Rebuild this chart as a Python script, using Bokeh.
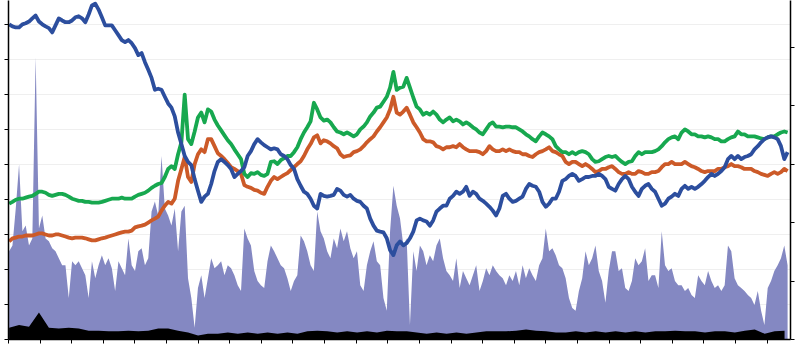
import numpy as np
from bokeh.plotting import figure
from bokeh.models import Range1d, LinearAxis, SingleIntervalTicker, CustomLabelingPolicy
from bokeh.embed import file_html
from bokeh.resources import INLINE

# ---- data ----
# price-like series on the left axis (ticks every 10)
blue = [
    90.0, 89.4, 89.1, 89.1, 90.0, 90.3, 90.8, 91.7, 92.5, 90.8,
    90.0, 89.4, 88.9, 87.7, 89.7, 91.7, 91.1, 90.6, 90.6, 91.1,
    92.0, 92.3, 91.7, 90.6, 92.8, 95.4, 95.9, 94.2, 92.0, 89.7,
    89.7, 89.7, 88.3, 86.9, 85.5, 84.9, 85.5, 84.6, 83.2, 81.2,
    81.8, 79.2, 77.0, 74.7, 71.3, 71.6, 71.3, 69.3, 67.4, 66.2,
    63.7, 59.1, 55.8, 52.4, 50.7, 49.8, 45.8, 42.5,
    39.3, 40.8, 41.6, 44.4, 48.1, 50.7, 51.5, 50.7, 49.8, 48.7,
    46.4, 47.3, 48.1, 49.2, 52.4, 53.8, 55.8, 57.2, 56.3, 55.5,
    54.9, 54.3, 54.6, 54.3, 52.9, 52.4, 51.5, 49.8, 48.7, 45.8,
    43.9, 42.2, 41.6, 40.2, 38.2, 37.4, 41.6, 41.0, 40.8, 41.0,
    41.3, 43.0, 42.5, 41.3, 40.8, 41.3, 40.2, 39.6, 39.3, 38.2,
    37.4, 34.5, 32.5, 31.1, 30.8, 30.6, 28.9, 25.5, 24.1, 26.9,
    28.0, 26.9, 27.5, 28.9, 30.8, 34.0, 34.5, 34.0, 33.7, 32.5,
    34.0, 36.5, 37.4, 38.2, 38.2, 40.2, 41.0, 42.2, 41.6, 42.2,
    43.6, 41.0, 42.2, 41.6, 40.2, 39.6, 38.8, 37.9, 36.8, 35.4,
    37.4, 41.0, 41.6, 40.2, 39.3, 39.6, 40.2, 40.8, 43.0, 44.4,
    43.9, 43.6, 42.2, 39.3, 37.9, 38.8, 40.2, 40.2, 42.2, 45.3,
    45.8, 46.7, 47.3, 46.7, 45.3, 45.8, 46.4, 46.4, 46.7, 46.7,
    47.3, 46.7, 45.8, 43.6, 43.0, 42.5, 44.4, 45.8, 46.7, 45.8,
    43.6, 42.2, 41.0, 43.0, 43.9, 44.4, 43.0, 42.2, 40.2, 38.2,
    38.8, 40.2, 40.8, 41.6, 41.0, 43.0, 43.9, 43.0, 43.6, 43.0,
    43.6, 44.4, 45.3, 46.4, 47.3, 46.7, 47.3, 48.1, 49.2, 51.5,
    52.4, 51.5, 52.4, 51.5, 52.1, 52.4, 52.9, 54.3, 55.2, 56.3,
    57.2, 57.7, 58.0, 57.7, 57.2, 55.2, 51.5, 53.5,
]

green = [
    38.8, 39.3, 39.9, 40.2, 40.2, 40.5, 40.8, 41.0, 41.6, 42.2,
    42.2, 41.9, 41.3, 41.0, 41.3, 41.6, 41.6, 41.3, 40.8, 40.2,
    39.9, 39.6, 39.6, 39.3, 39.3, 39.1, 39.1, 39.1, 39.3, 39.6,
    39.9, 40.2, 40.2, 40.2, 40.5, 40.2, 40.2, 40.2, 40.8, 41.3,
    41.6, 41.9, 42.5, 43.3, 43.9, 44.4, 44.7, 46.4, 48.7, 49.5,
    48.7, 52.9, 56.3, 69.9, 57.2, 55.8, 59.4, 63.4,
    64.8, 62.0, 65.7, 65.1, 62.8, 61.1, 59.7, 58.3, 56.9, 55.8,
    54.3, 52.9, 51.5, 47.3, 46.4, 47.5, 47.3, 47.8, 47.0, 46.7,
    47.3, 50.7, 50.9, 50.1, 51.2, 51.8, 52.4, 52.4, 53.5, 54.9,
    57.2, 59.1, 60.6, 62.3, 67.6, 65.7, 63.4, 62.5, 62.8, 62.0,
    60.6, 59.4, 59.1, 58.6, 59.1, 58.6, 58.0, 58.6, 60.0, 60.8,
    62.0, 63.7, 64.8, 66.2, 66.5, 67.9, 69.3, 71.9, 76.4, 71.3,
    71.9, 72.2, 74.7, 71.9, 69.1, 66.5, 65.7, 64.2, 64.8, 64.2,
    65.1, 64.2, 62.8, 62.0, 62.8, 63.4, 62.3, 62.8, 62.3, 61.4,
    62.0, 61.4, 60.6, 60.0, 59.1, 58.6, 60.0, 61.4, 62.0, 60.8,
    60.8, 60.6, 60.8, 60.8, 60.6, 60.6, 60.0, 59.4, 58.6, 58.0,
    57.2, 56.6, 58.0, 59.1, 58.6, 58.0, 57.2, 55.2, 54.3, 53.5,
    53.5, 52.9, 53.5, 52.9, 53.5, 53.8, 53.5, 52.9, 51.5, 50.7,
    50.9, 51.5, 52.1, 52.4, 52.1, 52.4, 51.5, 50.7, 50.1, 50.7,
    50.9, 52.4, 53.5, 52.9, 53.5, 53.5, 53.5, 53.8, 54.3, 55.2,
    56.3, 57.2, 57.7, 58.0, 57.2, 59.1, 60.0, 59.4, 58.6, 58.6,
    58.0, 58.0, 57.7, 58.0, 57.7, 57.2, 57.2, 56.6, 56.6, 57.2,
    57.7, 58.0, 59.4, 58.6, 58.6, 58.0, 58.0, 58.0, 57.7, 57.4,
    57.2, 57.7, 58.0, 58.0, 58.6, 59.1, 59.4, 59.1,
]

orange = [
    28.0, 28.9, 29.1, 29.4, 29.4, 29.7, 29.7, 29.7, 30.0, 30.3,
    30.3, 30.0, 29.7, 29.7, 30.0, 30.0, 29.7, 29.4, 29.1, 28.9,
    29.1, 29.1, 29.1, 28.9, 28.6, 28.3, 28.3, 28.6, 28.9, 29.1,
    29.4, 29.7, 30.0, 30.3, 30.6, 30.8, 30.8, 31.1, 32.0, 32.3,
    32.5, 32.8, 33.4, 34.0, 34.5, 35.1, 36.8, 38.2, 39.3, 38.8,
    40.2, 45.3, 48.7, 52.1, 46.4, 45.0, 50.1, 52.9,
    54.3, 53.5, 57.2, 57.2, 55.2, 53.2, 52.4, 51.5, 50.4, 49.2,
    48.7, 48.1, 47.3, 44.1, 43.6, 43.3, 42.7, 42.5, 41.9, 41.6,
    43.6, 45.3, 46.4, 45.8, 46.4, 47.0, 47.5, 48.4, 49.2, 50.1,
    50.9, 52.4, 54.3, 55.8, 57.7, 58.3, 56.0, 56.9, 56.6, 56.0,
    55.2, 54.6, 52.9, 52.1, 52.4, 52.6, 53.5, 53.8, 54.3, 55.2,
    56.3, 57.2, 58.0, 59.4, 60.6, 62.0, 63.4, 65.7, 69.3, 64.8,
    64.2, 65.1, 66.2, 64.2, 62.0, 60.6, 59.1, 57.2, 56.6, 56.6,
    56.3, 55.2, 54.9, 54.3, 54.9, 54.9, 55.2, 54.9, 55.8, 54.9,
    54.3, 53.8, 53.8, 53.8, 53.5, 52.9, 53.8, 55.2, 54.3, 53.8,
    53.8, 54.3, 53.8, 54.3, 53.8, 53.5, 53.5, 52.9, 52.9, 52.4,
    52.1, 52.9, 53.5, 53.8, 54.3, 54.9, 53.8, 53.5, 52.9, 52.4,
    50.7, 50.1, 50.7, 50.7, 50.1, 49.5, 50.1, 49.5, 48.7, 47.8,
    48.1, 48.7, 48.7, 49.2, 49.5, 48.7, 47.8, 47.3, 47.3, 47.8,
    47.3, 47.3, 48.1, 47.8, 47.3, 47.3, 47.8, 47.8, 48.1, 49.2,
    50.1, 50.1, 50.7, 50.1, 50.1, 50.1, 50.7, 50.1, 49.5, 49.2,
    48.7, 48.1, 47.8, 48.1, 48.1, 48.1, 48.7, 48.7, 49.2, 49.5,
    50.1, 49.5, 49.5, 49.2, 48.7, 48.7, 48.7, 48.1, 47.8, 47.3,
    47.0, 46.7, 47.3, 47.8, 47.3, 47.8, 48.7, 48.1,
]

# volume-like series on the right axis (ticks every 10)
volume = [
    15.1, 16.1, 22.4, 30.0, 18.5, 19.5, 16.1, 17.3, 48.3, 19.0,
    21.2, 17.3, 16.8, 15.6, 15.1, 13.9, 12.7, 12.7, 7.1, 13.4,
    12.7, 13.4, 12.2, 11.0, 7.1, 13.4, 10.5, 12.7, 14.4, 12.7,
    13.9, 12.2, 8.3, 13.4, 12.2, 11.0, 17.3, 12.7, 11.7, 15.1,
    15.6, 12.7, 13.9, 21.9, 23.6, 21.2, 31.4, 22.4, 21.2, 19.5,
    22.4, 15.1, 21.9, 22.9, 10.5, 7.1, 2.0, 8.8,
    11.0, 7.1, 10.5, 13.9, 12.2, 12.7, 13.4, 11.0, 12.7, 12.2,
    11.0, 9.3, 8.3, 19.0, 17.3, 16.1, 11.7, 10.0, 9.3, 8.8,
    13.4, 16.1, 15.1, 13.9, 12.7, 12.2, 10.5, 8.3, 10.0, 11.0,
    17.8, 16.8, 15.1, 12.7, 11.7, 21.9, 18.5, 17.3, 15.1, 13.9,
    17.3, 15.6, 19.0, 16.8, 18.5, 15.6, 13.9, 15.1, 9.3, 8.3,
    12.7, 15.1, 16.8, 13.4, 12.7, 7.1, 4.9, 18.5, 26.3, 22.9,
    20.7, 16.1, 17.3, 2.5, 15.1, 11.7, 16.1, 15.1, 12.7, 14.4,
    13.4, 16.1, 17.3, 13.9, 11.7, 11.0, 10.0, 13.9, 8.8, 11.7,
    10.5, 9.3, 11.0, 12.7, 8.3, 10.0, 12.2, 11.0, 12.7, 11.7,
    11.0, 10.5, 9.3, 11.0, 10.0, 11.7, 9.3, 12.7, 10.5, 12.2,
    11.0, 10.0, 12.7, 13.9, 19.0, 15.1, 15.6, 14.4, 12.7, 12.2,
    10.5, 7.1, 5.4, 4.9, 8.3, 10.5, 15.1, 12.7, 13.9, 16.1,
    11.7, 10.0, 6.3, 11.7, 15.1, 15.1, 11.7, 12.2, 8.8, 8.3,
    10.0, 13.9, 12.7, 13.4, 15.6, 10.0, 11.0, 11.0, 8.8, 18.5,
    12.7, 11.7, 12.2, 10.0, 9.3, 9.3, 8.3, 8.8, 7.6, 7.1,
    11.0, 10.0, 9.3, 11.7, 10.0, 8.8, 9.3, 8.3, 9.3, 16.1,
    15.1, 10.5, 9.3, 8.8, 8.3, 7.6, 7.1, 5.9, 8.3, 4.9,
    2.5, 8.8, 10.0, 11.7, 12.7, 13.9, 16.1, 12.7,
]

black = [
    2.0, 2.5, 2.2, 4.6, 2.0, 1.9, 2.0, 1.9, 1.5, 1.5,
    1.4, 1.4, 1.5, 1.4, 1.5, 1.9, 1.9, 1.5, 1.2, 0.7,
    1.0, 1.0, 1.2, 1.0, 1.2, 1.0, 1.2, 1.0, 1.2, 1.0,
    1.4, 1.5, 1.4, 1.2, 1.4, 1.2, 1.4, 1.2, 1.5, 1.4,
    1.4, 1.2, 1.0, 1.2, 1.0, 1.2, 1.0, 1.2, 1.4, 1.4,
    1.4, 1.5, 1.7, 1.5, 1.4, 1.2, 1.2, 1.4, 1.2, 1.4,
    1.2, 1.4, 1.2, 1.4, 1.2, 1.4, 1.4, 1.5, 1.4, 1.4,
    1.2, 1.4, 1.4, 1.2, 1.5, 1.7, 1.0, 1.4, 1.5,
]

# trading-day grid (x axis ticks every 25 days)
day = np.linspace(0.5, 616.2, len(blue))
day_black = np.linspace(0.5, 613.8, len(black))

# ---- figure ----
p = figure(width=798, height=347, output_backend="svg", toolbar_location=None,
           x_range=Range1d(0, 618.5), y_range=Range1d(0, 96.8),
           min_border_left=0, min_border_right=0, min_border_top=0, min_border_bottom=0)
p.extra_y_ranges = {"vol": Range1d(0, 58.0)}
p.outline_line_color = None
p.background_fill_color = "white"
p.border_fill_color = "white"

no_labels = CustomLabelingPolicy(code="return new Set()")


def style_axis(ax):
    ax.major_label_policy = no_labels
    ax.major_label_text_font_size = "1px"
    ax.major_label_standoff = 0
    ax.major_tick_in = 0
    ax.major_tick_out = 4
    ax.minor_tick_line_color = None
    ax.axis_line_color = "black"
    ax.axis_line_width = 1.5
    ax.major_tick_line_color = "black"
    ax.major_tick_line_width = 1


style_axis(p.xaxis[0])
style_axis(p.yaxis[0])
p.xaxis[0].ticker = SingleIntervalTicker(interval=25)
p.yaxis[0].ticker = SingleIntervalTicker(interval=10)

right = LinearAxis(y_range_name="vol", ticker=SingleIntervalTicker(interval=10))
style_axis(right)
p.add_layout(right, "right")

p.xgrid.visible = False
p.ygrid.grid_line_color = "#efefef"
p.ygrid.grid_line_width = 1

# volume areas
p.varea(x=day, y1=0, y2=volume, fill_color="#8488C2", fill_alpha=1.0, y_range_name="vol")
p.varea(x=day_black, y1=0, y2=black, fill_color="#000000", fill_alpha=1.0, y_range_name="vol")

# price lines
p.line(day, orange, line_color="#CC5A28", line_width=3.8, line_join="round")
p.line(day, green, line_color="#17A84F", line_width=3.8, line_join="round")
p.line(day, blue, line_color="#2C4E9E", line_width=3.8, line_join="round")

open("out.html", "w").write(file_html(p, INLINE))
